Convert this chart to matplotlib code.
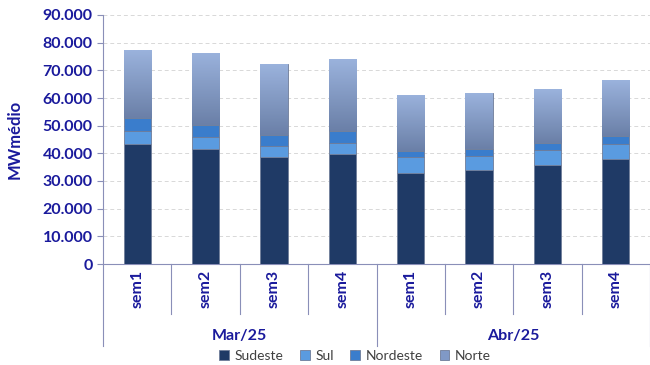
import numpy as np
import matplotlib.pyplot as plt
import matplotlib.transforms as mtransforms
from matplotlib.colors import LinearSegmentedColormap

plt.rcParams['font.family'] = ['Lato', 'DejaVu Sans']

semanas = ["sem1", "sem2", "sem3", "sem4", "sem1", "sem2", "sem3", "sem4"]
meses = ["Mar/25", "Abr/25"]
sudeste = [43300, 41600, 38800, 39800, 33000, 34000, 35800, 37800]
sul = [4700, 4300, 3800, 3800, 5600, 5100, 5300, 5600]
nordeste = [4800, 4300, 4000, 4500, 2200, 2500, 2500, 2900]
norte = [24500, 26200, 25600, 25900, 20300, 20100, 19500, 20100]

txt = "#1a1a9c"
axc = "#8a8fb8"
cores = ["#1f3a66", "#5a9be0", "#3a7dcc", "#8099c6"]
nomes = ["Sudeste", "Sul", "Nordeste", "Norte"]

fig = plt.figure(figsize=(6.5, 3.65), dpi=100)
ax = fig.add_axes([103/650, 101/365, 547/650, 249/365])

x = np.arange(len(semanas))
base = np.zeros(len(semanas))
barras = []
for serie, cor, nome in zip([sudeste, sul, nordeste, norte], cores, nomes):
    b = ax.bar(x, serie, 0.4, bottom=base, color=cor, edgecolor="#6f7d99",
               linewidth=0.6, label=nome, zorder=3)
    barras.append(b)
    base = base + np.array(serie)

# leve degradê no Norte
grad = LinearSegmentedColormap.from_list("g", ["#6b80a8", "#9ab2dc"])
for p in barras[3].patches:
    x0, y0 = p.get_x(), p.get_y()
    im = ax.imshow(np.linspace(0, 1, 50).reshape(-1, 1), cmap=grad, origin="lower",
                   extent=[x0, x0 + p.get_width(), y0, y0 + p.get_height()],
                   aspect="auto", zorder=3.5)
    im.set_clip_path(p)

ax.set_xlim(-0.5, len(semanas) - 0.5)
ax.set_ylim(0, 90000)
ax.set_yticks(np.arange(0, 90001, 10000))
ax.set_yticklabels(["0"] + [f"{v // 1000}.000" for v in range(10000, 90001, 10000)])
ax.tick_params(axis="y", colors=axc, labelcolor=txt, labelsize=11.5, length=4, width=0.8)
for l in ax.get_yticklabels():
    l.set_fontweight("bold")
ax.set_xticks([])
ax.yaxis.grid(True, linestyle=(0, (4, 3)), color="#d8d8d8", linewidth=0.7, zorder=0)
for s in ["top", "right"]:
    ax.spines[s].set_visible(False)
ax.spines["left"].set_color(axc)
ax.spines["bottom"].set_color(axc)
ax.set_ylabel("MWmédio", color=txt, fontsize=12, fontweight="bold", labelpad=14)

trans = mtransforms.blended_transform_factory(ax.transData, ax.transAxes)
for i in range(len(semanas)):
    ax.text(x[i], -0.025, semanas[i], rotation=90, ha="center", va="top",
            color=txt, fontsize=11.5, fontweight="bold", transform=trans)
for b in np.arange(-0.5, len(semanas), 1.0):
    comp = 0.33 if b in (-0.5, 3.5, 7.5) else 0.2
    ax.plot([b, b], [0, -comp], color=axc, linewidth=0.8, transform=trans, clip_on=False)
for j, m in enumerate(meses):
    ax.text(1.5 + 4 * j, -0.29, m, ha="center", va="center", color=txt,
            fontsize=11.5, fontweight="bold", transform=trans)

leg = fig.legend(loc="center", bbox_to_anchor=(355/650, 1 - 356/365), ncol=4,
                 frameon=False, fontsize=10, handlelength=0.7, handleheight=0.7,
                 handletextpad=0.4, columnspacing=1.2)
for t in leg.get_texts():
    t.set_color("#404040")

plt.savefig("out.png", dpi=100)
